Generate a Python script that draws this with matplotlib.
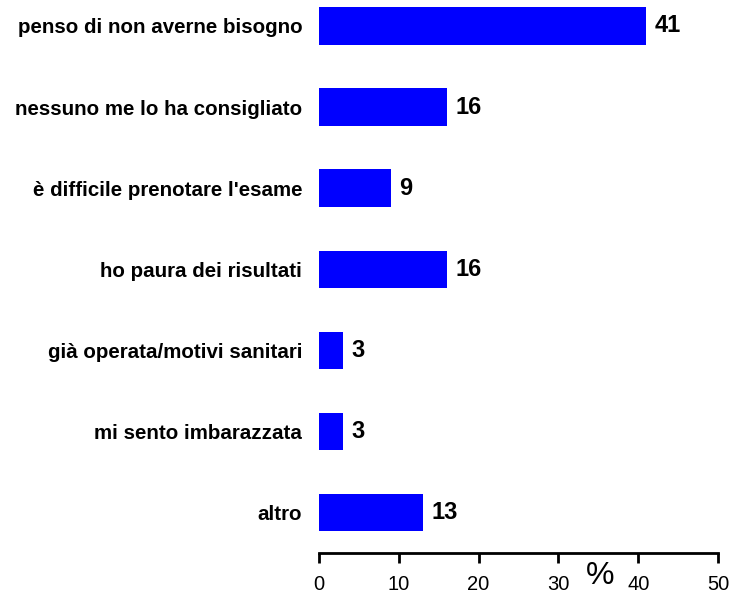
import matplotlib
matplotlib.use("Agg")
import matplotlib.pyplot as plt

# motivi per non aver fatto l'esame (%)
motivi = [
    "penso di non averne bisogno",
    "nessuno me lo ha consigliato",
    "è difficile prenotare l'esame",
    "ho paura dei risultati",
    "già operata/motivi sanitari",
    "mi sento imbarazzata",
    "altro",
]
percentuali = [41, 16, 9, 16, 3, 3, 13]
tick_x = [0, 10, 20, 30, 40, 50]

plt.rcParams['font.family'] = ['Liberation Sans', 'DejaVu Sans']

fig = plt.figure(figsize=(7.41, 5.94), dpi=100)
ax = fig.add_axes([0.4305, 0.069, 0.5385, 0.931])

pos = list(range(len(motivi)))
ax.barh(pos, percentuali, height=0.46, color="#0000ff")
for p, v in zip(pos, percentuali):
    ax.text(v + 1.1, p, str(v), va="center", ha="left",
            fontsize=17, fontweight="bold")

ax.set_ylim(6.5, -0.32)
ax.set_xlim(0, 50)
ax.set_yticks(pos)
ax.set_yticklabels(motivi, fontsize=14.8, fontweight="bold")
ax.tick_params(axis="y", length=0, pad=12)
ax.set_xticks(tick_x)
ax.set_xticklabels([str(t) for t in tick_x], fontsize=14.5)
ax.tick_params(axis="x", length=7, width=2, pad=9)

for s in ["top", "right", "left"]:
    ax.spines[s].set_visible(False)
ax.spines["bottom"].set_linewidth(2)

ax.text(35.2, 6.78, "%", fontsize=23, ha="center", va="center")

fig.savefig("out.png", dpi=100)
